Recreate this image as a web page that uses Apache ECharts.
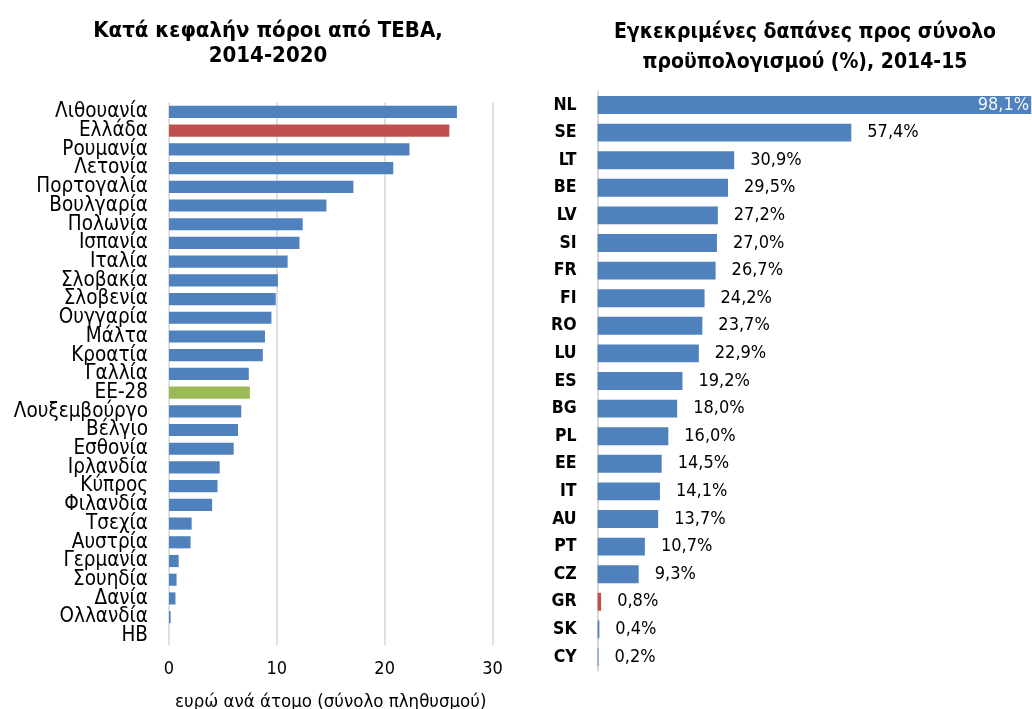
<!DOCTYPE html>
<html>
<head>
<meta charset="utf-8">
<script src="https://cdn.jsdelivr.net/npm/echarts@6/dist/echarts.min.js"></script>
<style>
  html, body { margin: 0; padding: 0; background: #fff; }
  #chart { width: 1032px; height: 709px; }
</style>
</head>
<body>
<div id="chart"></div>
<script>
// Left panel: per-capita resources (euro per person), 2014-2020
const countriesGR = ['Λιθουανία', 'Ελλάδα', 'Ρουμανία', 'Λετονία', 'Πορτογαλία', 'Βουλγαρία', 'Πολωνία',
  'Ισπανία', 'Ιταλία', 'Σλοβακία', 'Σλοβενία', 'Ουγγαρία', 'Μάλτα', 'Κροατία', 'Γαλλία', 'ΕΕ-28',
  'Λουξεμβούργο', 'Βέλγιο', 'Εσθονία', 'Ιρλανδία', 'Κύπρος', 'Φιλανδία', 'Τσεχία', 'Αυστρία',
  'Γερμανία', 'Σουηδία', 'Δανία', 'Ολλανδία', 'ΗΒ'];
const perCapita = [26.7, 26.0, 22.3, 20.8, 17.1, 14.6, 12.4, 12.1, 11.0, 10.1, 9.9, 9.5, 8.9, 8.7, 7.4, 7.5,
  6.7, 6.4, 6.0, 4.7, 4.5, 4.0, 2.1, 2.0, 0.9, 0.7, 0.6, 0.15, 0];
const perCapitaTicks = [0, 10, 20, 30];

// Right panel: approved expenditure as share of total budget (%), 2014-15
const countryCodes = ['NL', 'SE', 'LT', 'BE', 'LV', 'SI', 'FR', 'FI', 'RO', 'LU', 'ES', 'BG', 'PL', 'EE',
  'IT', 'AU', 'PT', 'CZ', 'GR', 'SK', 'CY'];
const spendShare = [98.1, 57.4, 30.9, 29.5, 27.2, 27.0, 26.7, 24.2, 23.7, 22.9, 19.2, 18.0, 16.0, 14.5,
  14.1, 13.7, 10.7, 9.3, 0.8, 0.4, 0.2];

const greeceNames = ['Ελλάδα', 'GR'];
const euName = 'ΕΕ-28';

const BLUE = '#4F81BD', RED = '#C0504D', GREEN = '#9BBB59';
const FONT = '"DejaVu Sans Condensed", "DejaVu Sans", sans-serif';

function barColor(name) {
  if (greeceNames.includes(name)) return RED;
  if (name === euName) return GREEN;
  return BLUE;
}

const leftData = countriesGR.map((n, i) => ({ value: perCapita[i], itemStyle: { color: barColor(n) } }));
const spendMax = Math.max(...spendShare);
const rightData = countryCodes.map((c, i) => {
  const item = { value: spendShare[i], itemStyle: { color: barColor(c) } };
  if (spendShare[i] === spendMax) {
    item.label = { position: 'insideRight', distance: 2, color: '#f4f7fb' };
  }
  return item;
});

const chart = echarts.init(document.getElementById('chart'), null, { renderer: 'canvas' });

chart.setOption({
  animation: false,
  backgroundColor: '#ffffff',
  textStyle: { fontFamily: FONT },
  title: [
    {
      text: 'Κατά κεφαλήν πόροι από ΤΕΒΑ,\n2014-2020',
      left: 263, top: 14, textAlign: 'center',
      textStyle: { fontFamily: FONT, fontSize: 22, fontWeight: 'bold', color: '#000', lineHeight: 25 }
    },
    {
      text: 'Εγκεκριμένες δαπάνες προς σύνολο\nπροϋπολογισμού (%), 2014-15',
      left: 800, top: 13, textAlign: 'center',
      textStyle: { fontFamily: FONT, fontSize: 21, fontWeight: 'bold', color: '#000', lineHeight: 30 }
    }
  ],
  grid: [
    { left: 169, top: 102.6, width: 323.5, height: 542.6, outerBoundsMode: 'none' },
    { left: 597.6, top: 91.2, width: 433.6, height: 579.6, outerBoundsMode: 'none' }
  ],
  xAxis: [
    {
      gridIndex: 0, type: 'value',
      min: perCapitaTicks[0], max: perCapitaTicks[perCapitaTicks.length - 1], interval: 10,
      axisLine: { show: false }, axisTick: { show: false },
      splitLine: { show: true, lineStyle: { color: '#D9D9D9', width: 1.6 } },
      axisLabel: { color: '#000', fontSize: 18, fontFamily: FONT, margin: 15 },
      name: 'ευρώ ανά άτομο (σύνολο πληθυσμού)', nameLocation: 'middle', nameGap: 47,
      nameTextStyle: { color: '#000', fontSize: 18.5, fontFamily: FONT }
    },
    {
      gridIndex: 1, type: 'value', min: 0, max: spendMax, show: false,
      splitLine: { show: false }
    }
  ],
  yAxis: [
    {
      gridIndex: 0, type: 'category', data: countriesGR, inverse: true,
      axisLine: { show: false }, axisTick: { show: false },
      axisLabel: { color: '#000', fontSize: 20.5, fontFamily: FONT, margin: 21, interval: 0 }
    },
    {
      gridIndex: 1, type: 'category', data: countryCodes, inverse: true,
      axisLine: { show: true, lineStyle: { color: '#D9D9D9', width: 2 } }, axisTick: { show: false },
      axisLabel: { color: '#000', fontSize: 17.5, fontWeight: 'bold', fontFamily: FONT, margin: 21, interval: 0 }
    }
  ],
  series: [
    {
      type: 'bar', xAxisIndex: 0, yAxisIndex: 0, data: leftData,
      barCategoryGap: '35%', silent: true
    },
    {
      type: 'bar', xAxisIndex: 1, yAxisIndex: 1, data: rightData,
      barCategoryGap: '35%', silent: true,
      label: {
        show: true, position: 'right', distance: 16,
        color: '#000', fontSize: 18, fontFamily: FONT,
        formatter: p => p.value.toFixed(1).replace('.', ',') + '%'
      }
    }
  ]
});
</script>
</body>
</html>
